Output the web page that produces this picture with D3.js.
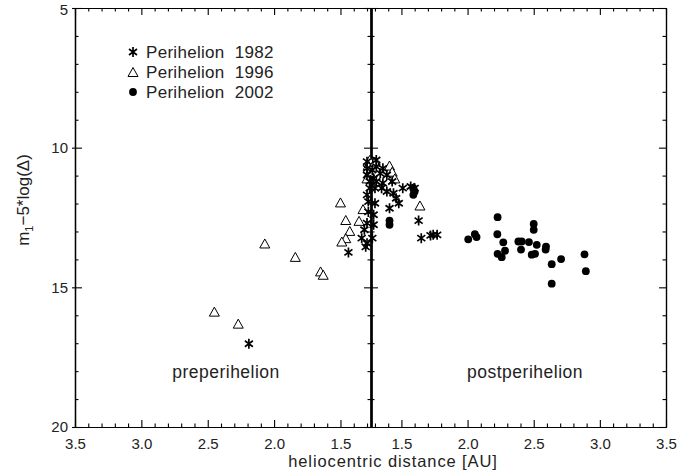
<!DOCTYPE html>
<html lang="en">
<head>
    <meta charset="UTF-8">
    <title>Perihelion magnitudes</title>
    <script src="https://d3js.org/d3.v7.min.js"></script>
    <style>
        body { margin: 0; background: #fff; }
        text { font-family: "Liberation Sans", Arial, sans-serif; fill: #222; }
    </style>
</head>
<body>
<svg width="691" height="472"></svg>
<script>

    // perihelion distance: the x axis breaks here (pre on the left, post on the right)
    const q = 1.27;

    const xMajor = [3.5, 3.0, 2.5, 2.0, 1.5];
    const yMajor = [5, 10, 15, 20];

    // [r (AU), m1 - 5 log(delta)]
    const p1982pre = [
        [2.19, 17.02], [1.44, 13.75], [1.30, 11.69], [1.29, 11.93], [1.30, 12.70],
        [1.32, 12.94], [1.34, 13.24], [1.30, 13.42], [1.28, 11.21], [1.30, 10.74],
        [1.30, 10.98], [1.28, 11.45], [1.30, 10.50], [1.31, 13.55], [1.29, 12.30]
    ];
    const p1982post = [
        [1.30, 11.99], [1.41, 12.17], [1.39, 11.57], [1.44, 11.63], [1.46, 11.81],
        [1.48, 11.99], [1.51, 11.45], [1.57, 11.39], [1.60, 11.45], [1.63, 12.61],
        [1.65, 13.24], [1.72, 13.14], [1.74, 13.12], [1.77, 13.12], [1.29, 12.76],
        [1.28, 13.24], [1.30, 11.45], [1.28, 10.80], [1.31, 10.68], [1.36, 10.74],
        [1.34, 10.92], [1.39, 10.98], [1.29, 11.10], [1.31, 11.21], [1.36, 11.27],
        [1.43, 11.21], [1.35, 11.45], [1.31, 10.44], [1.29, 12.40]
    ];
    const p1996pre = [
        [2.45, 15.87], [2.27, 16.30], [2.07, 13.43], [1.84, 13.91], [1.65, 14.43],
        [1.63, 14.55], [1.50, 11.96], [1.46, 12.59], [1.36, 12.62], [1.43, 12.98],
        [1.46, 13.24], [1.49, 13.36], [1.33, 12.20], [1.28, 10.44], [1.29, 10.62],
        [1.28, 10.86], [1.30, 11.10]
    ];
    const p1996post = [
        [1.41, 10.64], [1.43, 10.86], [1.64, 12.07], [1.30, 10.50], [1.45, 11.10]
    ];
    const p2002post = [
        [2.005, 13.28], [2.055, 13.10], [2.068, 13.20], [2.227, 12.49], [2.225, 13.10],
        [2.27, 13.39], [2.227, 13.80], [2.258, 13.92], [2.283, 13.69], [2.384, 13.36],
        [2.409, 13.36], [2.404, 13.65], [2.464, 13.38], [2.50, 12.73], [2.50, 12.94],
        [2.523, 13.48], [2.485, 13.83], [2.51, 13.80], [2.593, 13.54], [2.59, 13.65],
        [2.636, 14.17], [2.707, 13.99], [2.636, 14.87], [2.884, 13.82], [2.894, 14.42],
        [1.59, 11.45], [1.60, 11.57], [1.59, 11.69], [1.41, 12.61], [1.41, 12.76]
    ];

    const legendLabels = ["Perihelion  1982", "Perihelion  1996", "Perihelion  2002"];

    const mL = 75, mM = 371, mR = 666, mT = 8, mB = 427;

    const xPre  = d3.scaleLinear().domain([3.5, q]).range([mL, mM]);
    const xPost = d3.scaleLinear().domain([q, 3.5]).range([mM, mR]);
    const y     = d3.scaleLinear().domain([5, 20]).range([mT, mB]);

    const minorX = d3.range(13, 35).filter(d => d % 5 !== 0).map(d => d / 10);
    const minorY = d3.range(5, 21).filter(d => d % 5 !== 0);

    const svg = d3.select("svg");

    drawAxes();
    drawPoints();
    drawText();

    function asterisk(s) {
        const a = s * 0.8, b = s * 0.6;
        return `M0,${-s}L0,${s}M${-a},${-b}L${a},${b}M${-a},${b}L${a},${-b}`;
    }
    function triangle(w, h) {
        return `M0,${-h/2}L${w/2},${h/2}L${-w/2},${h/2}Z`;
    }

    function axis(gen, scale, values, size, labels, tx, ty, width) {
        const g = svg.append("g")
            .attr("transform", `translate(${tx},${ty})`)
            .call(gen(scale).tickValues(values).tickSize(size).tickSizeOuter(0)
                .tickPadding(labels ? (gen === d3.axisBottom ? 11 : 7) : 0)
                .tickFormat(labels ? (gen === d3.axisBottom ? d3.format(".1f") : d3.format("d")) : ""));
        g.select(".domain").attr("stroke", "#000").attr("stroke-width", width || 1.2);
        g.selectAll(".tick line").attr("stroke", "#000").attr("stroke-width", 1.1);
        g.selectAll(".tick text").style("font-size", "15px").attr("fill", "#222")
            .style("font-family", '"Liberation Sans", Arial, sans-serif');
        return g;
    }

    function drawAxes() {
        const vals = xMajor.filter(d => d > q);
        const minors = minorX.filter(d => d > q);
        [xPre, xPost].forEach(sc => {
            axis(d3.axisBottom, sc, vals, -7, true, 0, mB);
            axis(d3.axisBottom, sc, minors, -3.5, false, 0, mB);
            axis(d3.axisTop, sc, vals, -7, false, 0, mT);
            axis(d3.axisTop, sc, minors, -3.5, false, 0, mT);
        });
        const yl = axis(d3.axisLeft, y, yMajor, -7, true, mL, 0);
        yl.selectAll(".tick text").filter(d => d === 5).attr("dy", "0.45em");
        axis(d3.axisLeft, y, yMajor, 3, false, mL, 0);
        axis(d3.axisLeft, y, minorY, -3.5, false, mL, 0);
        axis(d3.axisRight, y, yMajor, -7, false, mR, 0);
        axis(d3.axisRight, y, minorY, -3.5, false, mR, 0);
        // shared middle axis: ticks of both panels
        axis(d3.axisRight, y, yMajor, -7, false, mM, 0, 1.8);
        axis(d3.axisRight, y, minorY, -3.5, false, mM, 0, 1.8);
        axis(d3.axisLeft, y, yMajor, -7, false, mM, 0, 1.8);
        axis(d3.axisLeft, y, minorY, -3.5, false, mM, 0, 1.8);
    }

    function plot(data, xs, kind) {
        const g = svg.append("g");
        const sel = g.selectAll(".pt").data(data).enter();
        if (kind === "dot") {
            sel.append("circle")
                .attr("cx", d => xs(d[0])).attr("cy", d => y(d[1])).attr("r", 3.9)
                .attr("fill", "#000");
        } else {
            sel.append("path")
                .attr("transform", d => `translate(${xs(d[0])},${y(d[1])})`)
                .attr("d", kind === "star" ? asterisk(5) : triangle(10, 9))
                .attr("fill", kind === "star" ? "none" : "#fff")
                .attr("stroke", "#000")
                .attr("stroke-width", kind === "star" ? 1.7 : 1);
        }
    }

    function drawPoints() {
        plot(p1996pre, xPre, "tri");
        plot(p1996post, xPost, "tri");
        plot(p1982pre, xPre, "star");
        plot(p1982post, xPost, "star");
        plot(p2002post, xPost, "dot");
    }

    function drawText() {
        const leg = svg.append("g");
        legendLabels.forEach((t, i) => {
            const yy = 52 + i * 20;
            if (i === 0) leg.append("path").attr("transform", `translate(133,${yy})`).attr("d", asterisk(5))
                .attr("stroke", "#000").attr("stroke-width", 1.7).attr("fill", "none");
            if (i === 1) leg.append("path").attr("transform", `translate(133,${yy})`).attr("d", triangle(10, 9))
                .attr("stroke", "#000").attr("fill", "none");
            if (i === 2) leg.append("circle").attr("cx", 133).attr("cy", yy).attr("r", 3.9).attr("fill", "#000");
            leg.append("text").attr("x", 146).attr("y", yy + 5.5)
                .style("font-size", "17px").style("letter-spacing", "0.3px").style("white-space", "pre")
                .text(t);
        });

        svg.append("text").attr("x", 226).attr("y", 378).attr("text-anchor", "middle")
            .style("font-size", "17.5px").style("letter-spacing", "0.5px").text("preperihelion");
        svg.append("text").attr("x", 525).attr("y", 378).attr("text-anchor", "middle")
            .style("font-size", "17.5px").style("letter-spacing", "0.5px").text("postperihelion");

        svg.append("text").attr("x", 393).attr("y", 467).attr("text-anchor", "middle")
            .style("font-size", "16.5px").style("letter-spacing", "0.9px").text("heliocentric distance [AU]");

        const yl = svg.append("text").attr("transform", "translate(29,200) rotate(-90)")
            .attr("text-anchor", "middle").style("font-size", "17px");
        yl.append("tspan").text("m");
        yl.append("tspan").attr("dy", 4).style("font-size", "11px").text("1");
        yl.append("tspan").attr("dy", -4).text("\u22125*log(\u0394)");
    }
</script>

</body>
</html>
